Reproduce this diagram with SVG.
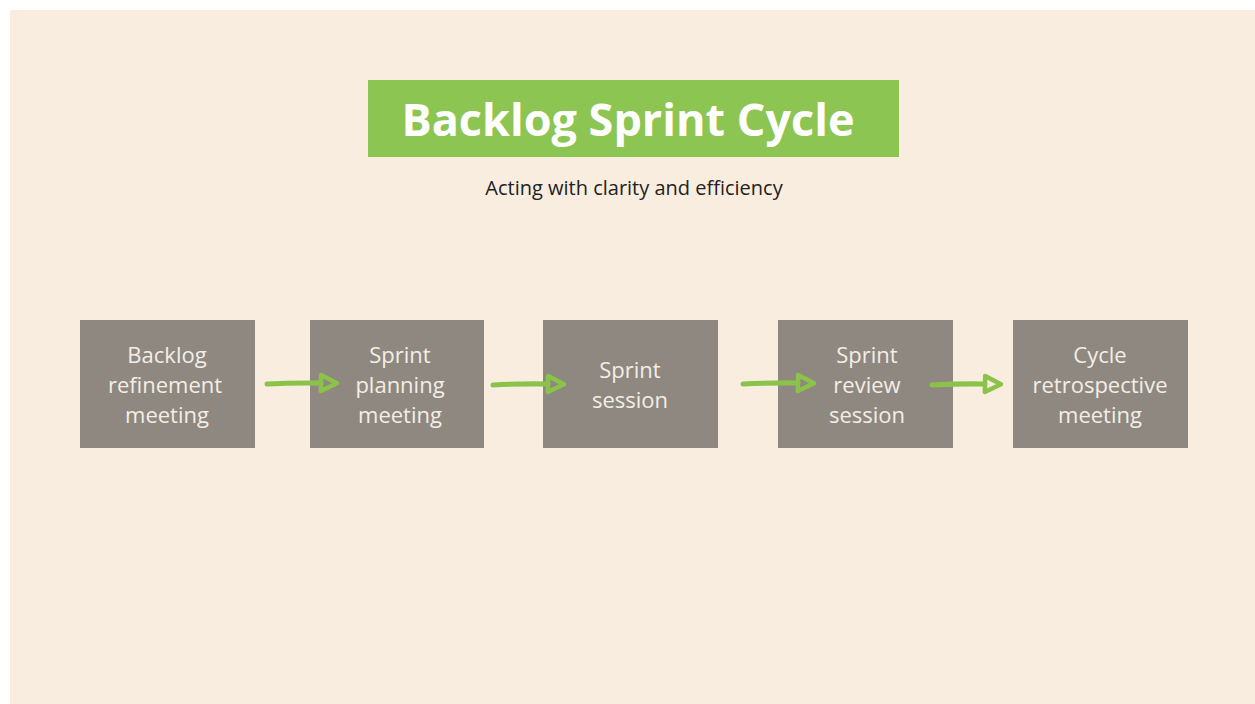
<svg xmlns="http://www.w3.org/2000/svg" width="1255" height="704" viewBox="0 0 1255 704">
  <defs>
    <style>
      .box { fill: #8f8880; }
      .label { font-family: "Open Sans", "Liberation Sans", sans-serif; font-size: 22px; fill: #f3eee6; text-anchor: middle; }
      .link { fill: none; stroke: #8bc34a; stroke-width: 5; stroke-linecap: round; stroke-linejoin: round; }
    </style>
    <!-- hollow triangular head, anchored at its base so the shaft stops there -->
    <marker id="head" viewBox="0 0 26 26" refX="5" refY="13" markerWidth="26" markerHeight="26" markerUnits="userSpaceOnUse" orient="auto" overflow="visible">
      <path d="M5 5 L21 13 L5 21 Z" fill="none" stroke="#8bc34a" stroke-width="4.5" stroke-linejoin="round"/>
    </marker>
  </defs>

  <!-- page -->
  <rect width="1255" height="704" fill="#ffffff"/>
  <rect x="10" y="10" width="1245" height="694" fill="#f9ede0"/>

  <!-- heading -->
  <g id="title">
    <rect x="368" y="80" width="531" height="77" fill="#8cc552"/>
    <text x="628" y="136" font-family="Open Sans, Liberation Sans, sans-serif" font-weight="700" font-size="45" fill="#ffffff" text-anchor="middle">Backlog Sprint Cycle</text>
  </g>
  <text id="subtitle" x="634" y="195" font-family="Open Sans, Liberation Sans, sans-serif" font-size="20" fill="#222222" text-anchor="middle">Acting with clarity and efficiency</text>

  <!-- process steps -->
  <g id="step1">
    <rect class="box" x="80" y="320" width="175" height="128"/>
    <text class="label" x="167" y="363">Backlog</text>
    <text class="label" x="165" y="393">refinement</text>
    <text class="label" x="167" y="423">meeting</text>
  </g>
  <g id="step2">
    <rect class="box" x="310" y="320" width="174" height="128"/>
    <text class="label" x="400" y="363">Sprint</text>
    <text class="label" x="400" y="393">planning</text>
    <text class="label" x="400" y="423">meeting</text>
  </g>
  <g id="step3">
    <rect class="box" x="543" y="320" width="175" height="128"/>
    <text class="label" x="630" y="378">Sprint</text>
    <text class="label" x="630" y="408">session</text>
  </g>
  <g id="step4">
    <rect class="box" x="778" y="320" width="175" height="128"/>
    <text class="label" x="867" y="363">Sprint</text>
    <text class="label" x="867" y="393">review</text>
    <text class="label" x="867" y="423">session</text>
  </g>
  <g id="step5">
    <rect class="box" x="1013" y="320" width="175" height="128"/>
    <text class="label" x="1100" y="363">Cycle</text>
    <text class="label" x="1100" y="393">retrospective</text>
    <text class="label" x="1100" y="423">meeting</text>
  </g>

  <!-- connectors -->
  <g id="connectors">
    <path class="link" d="M267 384 Q295 382.5 321 383" marker-end="url(#head)"/>
    <path class="link" d="M493 385 Q521 383.5 548 384" marker-end="url(#head)"/>
    <path class="link" d="M743 384 Q771 382.5 798 383" marker-end="url(#head)"/>
    <path class="link" d="M932 385 Q959 383.5 985 384" marker-end="url(#head)"/>
  </g>
</svg>
